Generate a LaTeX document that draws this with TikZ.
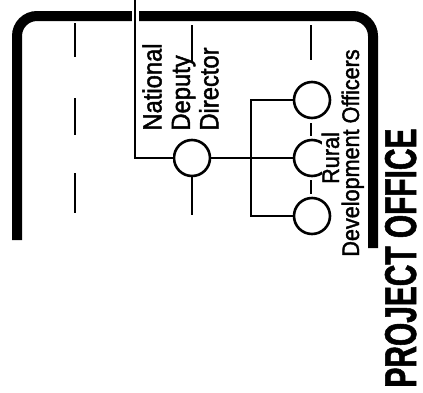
\documentclass[tikz,border=0pt]{standalone}
\usepackage{fontspec}
\setmainfont{Liberation Sans}
\newfontfamily\labelfont[FakeBold=1.6, FakeStretch=0.9]{Liberation Sans}
\newfontfamily\headfont[FakeStretch=0.67, FakeBold=1.2]{Liberation Sans}
\usetikzlibrary{positioning}

\begin{document}
\begin{tikzpicture}[x=0.5pt, y=-0.5pt,
    post/.style={circle, draw, line width=1.3pt, fill=white, minimum size=18pt, inner sep=0pt},
    link/.style={line width=1.1pt},
    colline/.style={line width=0.8pt},
    frameline/.style={line width=5pt, rounded corners=10pt},
    lbl/.style={rotate=90, inner sep=0pt}]
    \useasboundingbox (0,0) rectangle (423,392);
    % office frame
    \draw[frameline] (17,240) -- (17,16) -- (373,16) -- (373,248);
    % column lines
    \foreach \a/\b in {23/57, 98/135, 173/213}
      \draw[colline] (75,\a) -- (75,\b);
    \draw[colline] (192,25) -- (192,62);
    \foreach \a/\b in {25/60, 123/136, 180/194}
      \draw[colline] (311,\a) -- (311,\b);
    % posts
    \node[post] (ndd) at (192,158) {};
    \node[post] (rdo1) at (312,100) {};
    \node[post] (rdo2) at (312,158) {};
    \node[post] (rdo3) at (312,216) {};
    \draw[colline] (ndd) -- (192,215);
    % links
    \coordinate (top) at (135,0);
    \coordinate (bus) at (251,158);
    \draw[link, preaction={draw=white, line width=3.5pt}] (top) |- (ndd);
    \draw[link] (ndd) -- (rdo2);
    \draw[link, line width=1.3pt] (rdo1) -| (bus) |- (rdo3);
    % labels
    \node[lbl, anchor=north west, align=left, font=\labelfont\fontsize{13.2}{14.2}\selectfont] (nddlbl) at (142,131) {National\\Deputy\\Director};
    \node[lbl, anchor=base, fill=white, font=\labelfont\fontsize{12}{12}\selectfont] (rurallbl) at (339,158) {Rural};
    \node[lbl, anchor=base, font=\labelfont\fontsize{12}{12}\selectfont] (rdolbl) at (359,153) {Development Officers};
    \node[lbl, anchor=base, font=\headfont\bfseries\fontsize{22.3}{24}\selectfont] (office) at (416,258) {PROJECT OFFICE};
\end{tikzpicture}
\end{document}
